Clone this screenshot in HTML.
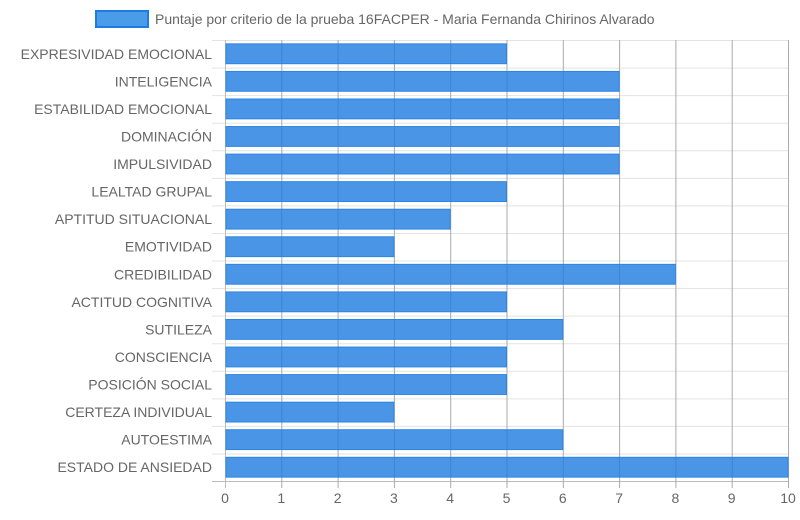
<!DOCTYPE html>
<html><head><meta charset="utf-8"><style>
body{margin:0;background:#fff;font-family:"Liberation Sans",sans-serif;}
svg text{font-family:"Liberation Sans",sans-serif;fill:#666;}
</style></head><body>
<svg width="800" height="515">
<g>
<rect x="96" y="11" width="52" height="16" fill="#4a9be8" stroke="#1e7be0" stroke-width="2"/>
<text x="155" y="24" font-size="14">Puntaje por criterio de la prueba 16FACPER - Maria Fernanda Chirinos Alvarado</text>
</g>
<g id="grid"></g>
<g id="bars"></g>
<g id="labels"></g>
</svg>
<script>
const categories=["EXPRESIVIDAD EMOCIONAL","INTELIGENCIA","ESTABILIDAD EMOCIONAL","DOMINACIÓN","IMPULSIVIDAD","LEALTAD GRUPAL","APTITUD SITUACIONAL","EMOTIVIDAD","CREDIBILIDAD","ACTITUD COGNITIVA","SUTILEZA","CONSCIENCIA","POSICIÓN SOCIAL","CERTEZA INDIVIDUAL","AUTOESTIMA","ESTADO DE ANSIEDAD"];
const values=[5,7,7,7,7,5,4,3,8,5,6,5,5,3,6,10];
const ticks=[0,1,2,3,4,5,6,7,8,9,10];
const NS="http://www.w3.org/2000/svg";
const X0=225,X1=788,Y0=40,Y1=481;
const band=(Y1-Y0)/categories.length;
function x(v){return X0+(v-ticks[0])/(ticks[ticks.length-1]-ticks[0])*(X1-X0);}
function y(i){return Y0+i*band;}
function mk(tag,attrs,parent){const e=document.createElementNS(NS,tag);for(const k in attrs)e.setAttribute(k,attrs[k]);document.getElementById(parent).appendChild(e);return e;}
for(let i=0;i<=categories.length;i++){
  const l=mk("line",{x1:212,x2:X1,y1:y(i)+0.5,y2:y(i)+0.5,stroke:i==categories.length?"#bbb":"#e3e3e3"},"grid");
  
  
}
ticks.forEach(t=>{
  const l=mk("line",{x1:x(t)+0.5,x2:x(t)+0.5,y1:Y0,y2:Y1+7,stroke:t==0?"#bbb":"#aaa"},"grid");
  
  
  const tx=mk("text",{x:x(t),y:503,"font-size":14,"text-anchor":"middle"},"labels");
  tx.textContent=t;
  
  
});
categories.forEach((c,i)=>{
  const h=band*0.72;
  const r=mk("rect",{x:x(0)+1,y:y(i)+(band-h)/2,width:x(values[i])-x(0)-1,height:h,fill:"rgba(30,123,224,0.8)",stroke:"#2a86e6","stroke-width":1},"bars");
  
  
  const t=mk("text",{x:212,y:y(i)+band/2+5,"font-size":14,"text-anchor":"end"},"labels");
  t.textContent=c;
  
  
});
</script>
</body></html>
